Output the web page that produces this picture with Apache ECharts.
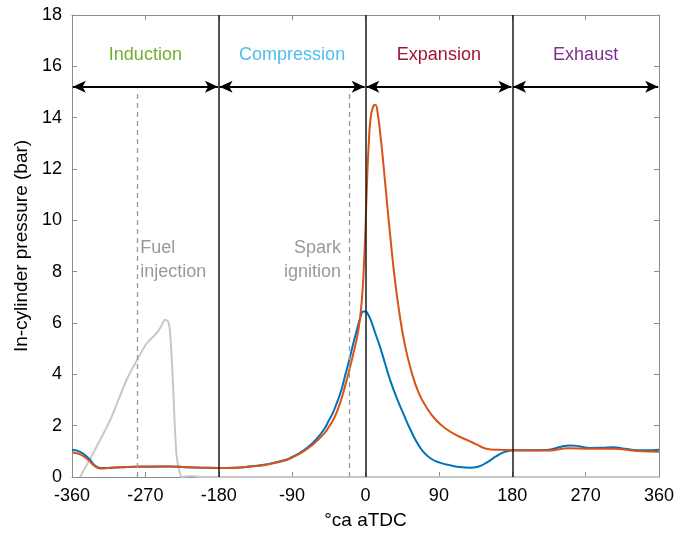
<!DOCTYPE html>
<html>
<head>
<meta charset="utf-8">
<script src="https://cdn.jsdelivr.net/npm/echarts@6/dist/echarts.min.js"></script>
<style>
  html, body { margin: 0; padding: 0; background: #fff; }
  #chart { width: 679px; height: 541px; }
</style>
</head>
<body>
<div id="chart"></div>
<script>
// crank angle (deg aTDC) vs in-cylinder pressure (bar)
const motored = [
  [-360, 1.06], [-350, 0.98], [-340, 0.74], [-332, 0.45], [-325, 0.35], [-315, 0.36],
  [-300, 0.38], [-280, 0.4], [-260, 0.4], [-240, 0.41], [-220, 0.38], [-200, 0.36],
  [-180, 0.35], [-160, 0.36], [-140, 0.42], [-120, 0.5], [-100, 0.65], [-90, 0.78],
  [-80, 0.95], [-70, 1.18], [-60, 1.48], [-50, 1.9], [-45, 2.2], [-40, 2.5], [-35, 2.9],
  [-30, 3.35], [-25, 3.95], [-20, 4.55], [-15, 5.2], [-10, 5.8], [-6, 6.25], [-3, 6.45],
  [0, 6.45], [4, 6.28], [8, 5.98], [12, 5.6], [18, 5.05], [24, 4.42], [30, 3.8],
  [38, 3.1], [46, 2.5], [55, 1.85], [63, 1.35], [71, 0.98], [80, 0.72], [91, 0.56],
  [105, 0.45], [118, 0.38], [128, 0.36], [138, 0.4], [148, 0.55], [160, 0.8], [170, 0.97],
  [180, 1.03], [200, 1.04], [222, 1.05], [240, 1.18], [251, 1.23], [262, 1.2],
  [275, 1.13], [290, 1.14], [304, 1.16], [318, 1.1], [333, 1.04], [345, 1.04], [360, 1.06]
];
const fired = [
  [-360, 0.95], [-350, 0.88], [-340, 0.66], [-332, 0.42], [-325, 0.33], [-315, 0.35],
  [-300, 0.38], [-280, 0.4], [-260, 0.41], [-240, 0.41], [-220, 0.38], [-200, 0.36],
  [-180, 0.35], [-160, 0.36], [-140, 0.41], [-120, 0.49], [-100, 0.63], [-90, 0.76],
  [-80, 0.92], [-70, 1.13], [-60, 1.4], [-50, 1.72], [-45, 1.95], [-40, 2.2], [-35, 2.55],
  [-30, 3.0], [-25, 3.55], [-20, 4.15], [-15, 4.8], [-10, 5.5], [-7, 6.1], [-4, 7.1],
  [-2, 8.2], [0, 9.7], [2, 11.6], [4, 13.0], [6, 13.9], [9, 14.4], [12, 14.5],
  [15, 14.15], [18, 13.4], [21, 12.5], [24, 11.5], [30, 9.5], [36, 7.7], [42, 6.3],
  [48, 5.2], [56, 4.15], [65, 3.3], [75, 2.7], [87, 2.2], [100, 1.85], [112, 1.62],
  [124, 1.45], [136, 1.27], [146, 1.12], [155, 1.07], [165, 1.06], [180, 1.05],
  [200, 1.03], [222, 1.03], [250, 1.12], [275, 1.1], [304, 1.1], [333, 1.01], [360, 0.98]
];
const injection = [
  [-350, 0], [-345, 0.3], [-334, 0.93], [-313, 2.23], [-293, 3.79], [-280, 4.57],
  [-268, 5.22], [-256, 5.61], [-250, 5.9], [-246, 6.13], [-242, 6.05], [-240, 5.74],
  [-238, 4.8], [-236, 3.53], [-232, 0.93], [-228, 0.2], [-225, 0], [-215, 0.04],
  [-200, 0], [360, 0]
];
const phaseNames = ['Induction', 'Compression', 'Expansion', 'Exhaust'];
const phaseColors = ['#77AC30', '#4DBEEE', '#A2142F', '#7E2F8E'];
const phaseBounds = [-360, -180, 0, 180, 360];
const strokeLines = [-180, 0, 180];
const eventAngles = [-280, -20];
const eventNames = ['Fuel\ninjection', 'Spark\nignition'];

const arrowY = 15.2;
const labelY = 16.45;
const noteY = 8.45;

const chart = echarts.init(document.getElementById('chart'));
const font = 'Liberation Sans, Arial, sans-serif';
const boxColor = '#8c8c8c';

const phaseLabels = phaseNames.map((n, i) => ({
  value: [(phaseBounds[i] + phaseBounds[i + 1]) / 2, labelY],
  label: { formatter: n, color: phaseColors[i], position: 'inside' }
}));
const notes = [
  { value: [eventAngles[0], noteY], label: { formatter: eventNames[0], position: 'right', align: 'left', offset: [-2, 0] } },
  { value: [eventAngles[1] - 10, noteY], label: { formatter: eventNames[1], position: 'left', align: 'right', offset: [5, 0] } }
];

chart.setOption({
  animation: false,
  grid: { left: 72, right: 20, top: 15, bottom: 64 },
  xAxis: [{
    type: 'value', min: -360, max: 360, interval: 90,
    name: '°ca aTDC', nameLocation: 'middle', nameGap: 34,
    nameTextStyle: { fontFamily: font, fontSize: 19, color: '#000' },
    axisLine: { show: true, onZero: false, lineStyle: { color: boxColor, width: 1 } },
    axisTick: { show: true, inside: true, length: 5, lineStyle: { color: boxColor } },
    axisLabel: { fontFamily: font, fontSize: 18, color: '#000', margin: 10 },
    splitLine: { show: false }
  }, {
    type: 'value', min: -360, max: 360, interval: 90, position: 'top',
    axisLine: { show: true, onZero: false, lineStyle: { color: boxColor, width: 1 } },
    axisTick: { show: true, inside: true, length: 5, lineStyle: { color: boxColor } },
    axisLabel: { show: false }, splitLine: { show: false }
  }],
  yAxis: [{
    type: 'value', min: 0, max: 18, interval: 2,
    name: 'In-cylinder pressure (bar)', nameLocation: 'middle', nameGap: 33,
    nameTextStyle: { fontFamily: font, fontSize: 19, color: '#000' },
    axisLine: { show: true, onZero: false, lineStyle: { color: boxColor, width: 1 } },
    axisTick: { show: true, inside: true, length: 5, lineStyle: { color: boxColor } },
    axisLabel: { fontFamily: font, fontSize: 18, color: '#000', margin: 10 },
    splitLine: { show: false }
  }, {
    type: 'value', min: 0, max: 18, interval: 2, position: 'right',
    axisLine: { show: true, onZero: false, lineStyle: { color: boxColor, width: 1 } },
    axisTick: { show: true, inside: true, length: 5, lineStyle: { color: boxColor } },
    axisLabel: { show: false }, splitLine: { show: false }
  }],
  series: [
    {
      name: 'Injection', type: 'line', data: injection, smooth: 0.3, symbol: 'none',
      lineStyle: { color: '#c8c8c8', width: 2 }, z: 2,
      markLine: {
        silent: true, symbol: 'none', label: { show: false },
        lineStyle: { color: '#999', width: 1.3, type: [5, 4] },
        data: eventAngles.map(a => [{ coord: [a, 0] }, { coord: [a, arrowY - 0.1] }])
      }
    },
    {
      name: 'Strokes', type: 'line', data: [], symbol: 'none',
      markLine: {
        silent: true, symbol: 'none', label: { show: false },
        lineStyle: { color: '#1a1a1a', width: 1.5, type: 'solid' },
        data: strokeLines.map(a => ({ xAxis: a }))
      }
    },
    {
      name: 'Arrows', type: 'line', data: [], symbol: 'none',
      markLine: {
        silent: true, symbol: ['arrow', 'arrow'], symbolSize: [9, 13], label: { show: false },
        lineStyle: { color: '#000', width: 1.8, type: 'solid' },
        data: phaseNames.map((n, i) => [
          { coord: [phaseBounds[i] + 1, arrowY] },
          { coord: [phaseBounds[i + 1] - 1, arrowY] }
        ])
      }
    },
    {
      name: 'Motored', type: 'line', data: motored, smooth: 0.5, symbol: 'none',
      lineStyle: { color: '#0072BD', width: 2 }, z: 3
    },
    {
      name: 'Fired', type: 'line', data: fired, smooth: 0.5, symbol: 'none',
      lineStyle: { color: '#D95319', width: 2 }, z: 4
    },
    {
      name: 'Phases', type: 'scatter', data: phaseLabels, symbolSize: 0,
      itemStyle: { opacity: 1 },
      label: { show: true, fontFamily: font, fontSize: 18 }
    },
    {
      name: 'Notes', type: 'scatter', data: notes, symbolSize: 0,
      itemStyle: { opacity: 1 },
      label: { show: true, fontFamily: font, fontSize: 18, color: '#999', lineHeight: 24 }
    }
  ]
});
</script>
</body>
</html>
